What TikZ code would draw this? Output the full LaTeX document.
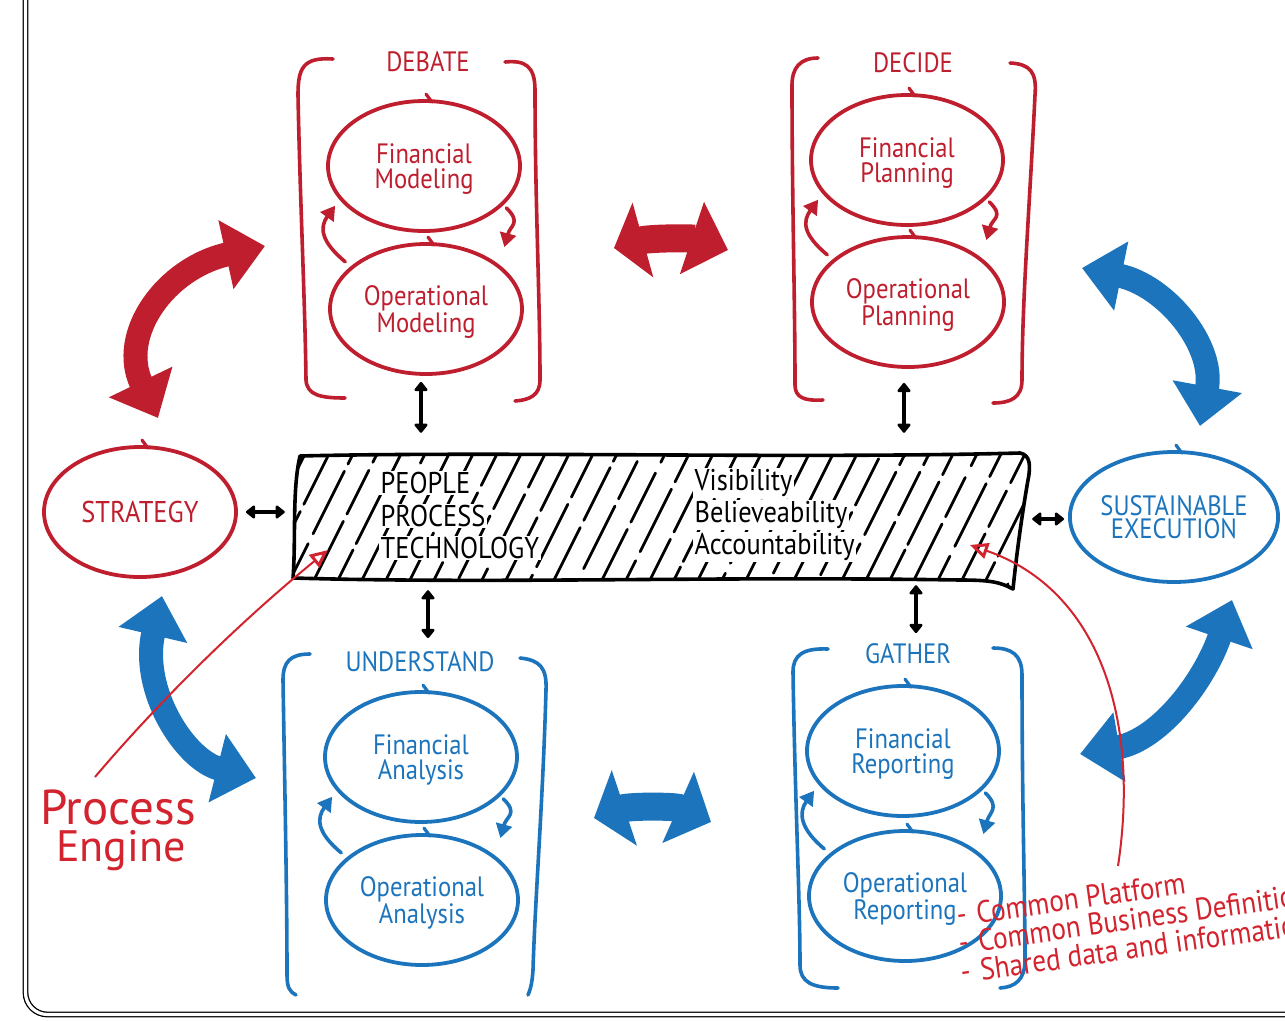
\documentclass[tikz,border=0pt]{standalone}
\usepackage{fontspec}
\newfontfamily\hand[FakeStretch=0.88]{PT Sans}
\newfontfamily\handw{PT Sans}
\usetikzlibrary{shapes.geometric,arrows.meta,calc}
\definecolor{cred}{HTML}{BE1E2D}
\definecolor{cblue}{HTML}{1C75BC}
\definecolor{cann}{HTML}{D2232E}
\tikzset{
  bub/.style={ellipse, draw, line width=3.8pt, minimum width=192pt, minimum height=130pt,
    inner sep=0pt, align=center, text depth=0pt, font=\hand\fontsize{28}{25}\selectfont},
  bubr/.style={bub, draw=cred, text=cred},
  bubb/.style={bub, draw=cblue, text=cblue},
  brk/.style={line width=3.6pt, line cap=round, line join=round},
  cyc/.style={line width=3.6pt, line cap=round, -{Triangle[length=14pt,width=16pt]}},
  blk/.style={line width=3.8pt, black, {Triangle[length=10pt,width=15pt,round]}-{Triangle[length=10pt,width=15pt,round]}},
  big/.style={line width=24pt, {Triangle[length=40pt,width=68pt]}-{Triangle[length=40pt,width=68pt]}},
  lbl/.style={font=\hand\fontsize{28}{25}\selectfont, inner sep=0pt},
  boxtxt/.style={font=\hand\fontsize{30}{25}\selectfont, inner sep=1.5pt, fill=white, anchor=west, text=black},
  hatch/.style={line width=2.8pt, line cap=round},
  annline/.style={draw=cann, line width=2pt, -{Triangle[open,length=18pt,width=16pt,line width=3pt]}},
  anntxt/.style={text=cann, inner sep=0pt},
  listtxt/.style={anntxt, anchor=base west, rotate=8, font=\hand\fontsize{31}{28}\selectfont},
  notch/.style={line width=3.2pt, line cap=round},
}
\begin{document}
\begin{tikzpicture}[x=1pt,y=-1pt]
\useasboundingbox (0,0) rectangle (1285,1020);
\clip (0,0) rectangle (1285,1020);
\fill[white] (0,0) rectangle (1285,1020);

% outer frame
\draw[line width=1.3pt, double distance=3.2pt, rounded corners=22pt] (25.5,-10) |- (1300,1014.5);

% ---------- ellipses ----------
\node[bubr] (fm) at (424,166) {Financial\\Modeling};
\node[bubr] (om) at (426,309) {Operational\\Modeling};
\node[bubr] (fp) at (907,160) {Financial\\Planning};
\node[bubr] (op) at (908,302) {Operational\\Planning};
\node[bubr, font=\hand\fontsize{30}{25}\selectfont] (strat) at (140,512) {STRATEGY};
\node[bubb] (fa) at (421,757) {Financial\\Analysis};
\node[bubb] (oa) at (422,900) {Operational\\Analysis};
\node[bubb] (fr) at (903,751) {Financial\\Reporting};
\node[bubb] (or) at (905,896) {Operational\\Reporting};
\node[bubb, font=\hand\fontsize{28}{23}\selectfont] (se) at (1174,517) {SUSTAINABLE\\EXECUTION};

% little hand-drawn notches at the top of each ellipse
\foreach \n/\c in {fm/cred,om/cred,fp/cred,op/cred,strat/cred,fa/cblue,oa/cblue,fr/cblue,or/cblue,se/cblue}{
  \draw[notch, \c] ($(\n.north)+(2,-5)$) -- ($(\n.north)+(8,3)$);
}

% ---------- group labels ----------
\node[lbl, text=cred] (ldebate) at (428,62) {DEBATE};
\node[lbl, text=cred] (ldecide) at (913,63) {DECIDE};
\node[lbl, text=cblue] (lunder) at (420,662) {UNDERSTAND};
\node[lbl, text=cblue] (lgather) at (908,654) {GATHER};

% ---------- brackets ----------
\draw[brk, cred] (333,59) .. controls (303,57) and (298,68) .. (298,95) .. controls (300,200) and (305,300) .. (306,380) .. controls (307,395) and (320,398) .. (345,398);
\draw[brk, cred] (505,62) .. controls (525,60) and (535,66) .. (535,90) .. controls (535,200) and (540,300) .. (540,380) .. controls (540,395) and (530,400) .. (515,401);
\draw[brk, cred] (818,58) .. controls (800,58) and (792,68) .. (792,85) .. controls (792,200) and (795,300) .. (795,385) .. controls (795,398) and (805,401) .. (823,400);
\draw[brk, cred] (1010,63) .. controls (1030,64) and (1037,72) .. (1035,95) .. controls (1030,200) and (1022,300) .. (1022,380) .. controls (1022,398) and (1010,403) .. (993,403);
\draw[brk, cblue] (310,654) .. controls (290,654) and (283,662) .. (283,680) .. controls (285,800) and (287,900) .. (287,975) .. controls (287,988) and (290,992) .. (296,995);
\draw[brk, cblue] (520,658) .. controls (540,660) and (547,668) .. (546,690) .. controls (543,800) and (535,900) .. (533,970) .. controls (532,985) and (530,990) .. (528,995);
\draw[brk, cblue] (828,649) .. controls (803,648) and (793,655) .. (793,672) .. controls (795,800) and (800,900) .. (800,965) .. controls (800,982) and (812,988) .. (838,988);
\draw[brk, cblue] (993,648) .. controls (1012,648) and (1022,655) .. (1022,675) .. controls (1022,800) and (1025,900) .. (1025,960) .. controls (1025,980) and (1015,987) .. (1000,988);

% ---------- cycle arrows inside groups ----------
\foreach \U/\L/\c in {fm/om/cred, fp/op/cred, fa/oa/cblue, fr/or/cblue}{
  \draw[cyc, \c] ($(\L.150)+(-6,-4)$) .. controls +(-24,-20) and +(-16,22) .. ($(\U.205)+(-8,2)$);
  \draw[cyc, \c] ($(\U.-27)+(4,2)$) .. controls +(15,15) and +(6,-22) .. ($(\L.35)+(10,-14)$);
}

% ---------- central hatched box ----------
\node[minimum width=733pt, minimum height=130pt, inner sep=0pt] (box) at (661.5,520) {};
\def\boxpath{(300,456) .. controls (500,451) and (800,459) .. (1020,453) .. controls (1030,455) and (1031,465) .. (1028,480) .. controls (1021,520) and (1016,560) .. (1013,589) .. controls (1000,582) and (990,580) .. (960,580) .. controls (700,576) and (500,584) .. (293,578) .. controls (296,540) and (292,490) .. (300,456) -- cycle}
\begin{scope}
  \clip \boxpath;
  \foreach \i in {0,...,34}{
    \pgfmathsetmacro\ph{mod(\i*37,71)}
    \pgfmathsetmacro\da{40+mod(\i*13,30)}
    \pgfmathsetmacro\db{6+mod(\i*7,9)}
    \draw[hatch, dash pattern=on \da pt off \db pt on 70pt off 8pt, dash phase=\ph pt] (232+\i*24,600) -- (232+\i*24+80,440);
  }
\end{scope}
\draw[line width=3.6pt, line join=round] \boxpath;

\node[boxtxt] (t1) at (379,483) {PEOPLE};
\node[boxtxt] (t2) at (379,516) {PROCESS};
\node[boxtxt] (t3) at (379,548) {TECHNOLOGY};
\node[boxtxt] (t4) at (693,483) {Visibility};
\node[boxtxt] (t5) at (693,515) {Believeability};
\node[boxtxt] (t6) at (693,547) {Accountability};

% ---------- black connectors ----------
\draw[blk] ($(om.south)+(-5,6)$) -- ($(box.north -| om.south)+(-5,-22)$);
\draw[blk] ($(op.south)+(-4,14)$) -- ($(box.north -| op.south)+(-4,-22)$);
\draw[blk] ($(box.south -| fa.north)+(7,5)$) -- ($(fa.north)+(7,-52)$);
\draw[blk] ($(box.south -| fr.north)+(13,0)$) -- ($(fr.north)+(13,-51)$);
\draw[blk] ($(strat.east)+(8,0)$) -- ($(box.west |- strat.east)+(-10,0)$);
\draw[blk] ($(box.east)+(4,-1)$) -- ($(se.west)+(-4,2)$);

% ---------- big curved arrows ----------
\coordinate (r1a) at (158,418);
\coordinate (r1b) at (265,246);
\draw[big, cred] (r1a) .. controls (118,335) and (165,268) .. (r1b);
\coordinate (r2a) at (614,248);
\coordinate (r2b) at (728,250);
\draw[big, cred, line width=28pt, {Triangle[length=30pt,width=76pt]}-{Triangle[length=38pt,width=74pt]}] (r2a) .. controls (650,238) and (692,238) .. (r2b);
\coordinate (b1a) at (1082,268);
\coordinate (b1b) at (1200,426);
\draw[big, cblue] (b1a) .. controls (1165,285) and (1215,345) .. (b1b);
\coordinate (b2a) at (1232,600);
\coordinate (b2b) at (1080,754);
\draw[big, cblue] (b2a) .. controls (1205,680) and (1160,740) .. (b2b);
\coordinate (b3a) at (162,596);
\coordinate (b3b) at (256,778);
\draw[big, cblue] (b3a) .. controls (140,690) and (185,760) .. (b3b);
\coordinate (b4a) at (594,818);
\coordinate (b4b) at (711,822);
\draw[big, cblue, line width=28pt, {Triangle[length=32pt,width=78pt]}-{Triangle[length=36pt,width=76pt]}] (b4a) .. controls (630,806) and (675,806) .. (b4b);

% ---------- annotations ----------
\node[anntxt, anchor=base west, font=\handw\fontsize{49}{40}\selectfont] (pe1) at (40,824) {Process};
\node[anntxt, anchor=base west, font=\handw\fontsize{44}{40}\selectfont] (pe2) at (56,861) {Engine};
\coordinate (peStart) at (95,777);
\coordinate (peEnd) at (328,550);
\draw[annline] (peStart) .. controls (150,712) and (230,630) .. (peEnd);

\coordinate (cpStart) at (1118,866);
\coordinate (cpEnd) at (970,545);
\draw[annline] (cpStart) .. controls (1140,720) and (1100,590) .. (cpEnd);

\node[listtxt] (pl1) at (958,926) {-\hspace{10pt}Common Platform};
\node[listtxt] (pl2) at (960,954) {-\hspace{10pt}Common Business Definitions};
\node[listtxt] (pl3) at (962,983) {-\hspace{10pt}Shared data and information};

\end{tikzpicture}
\end{document}
